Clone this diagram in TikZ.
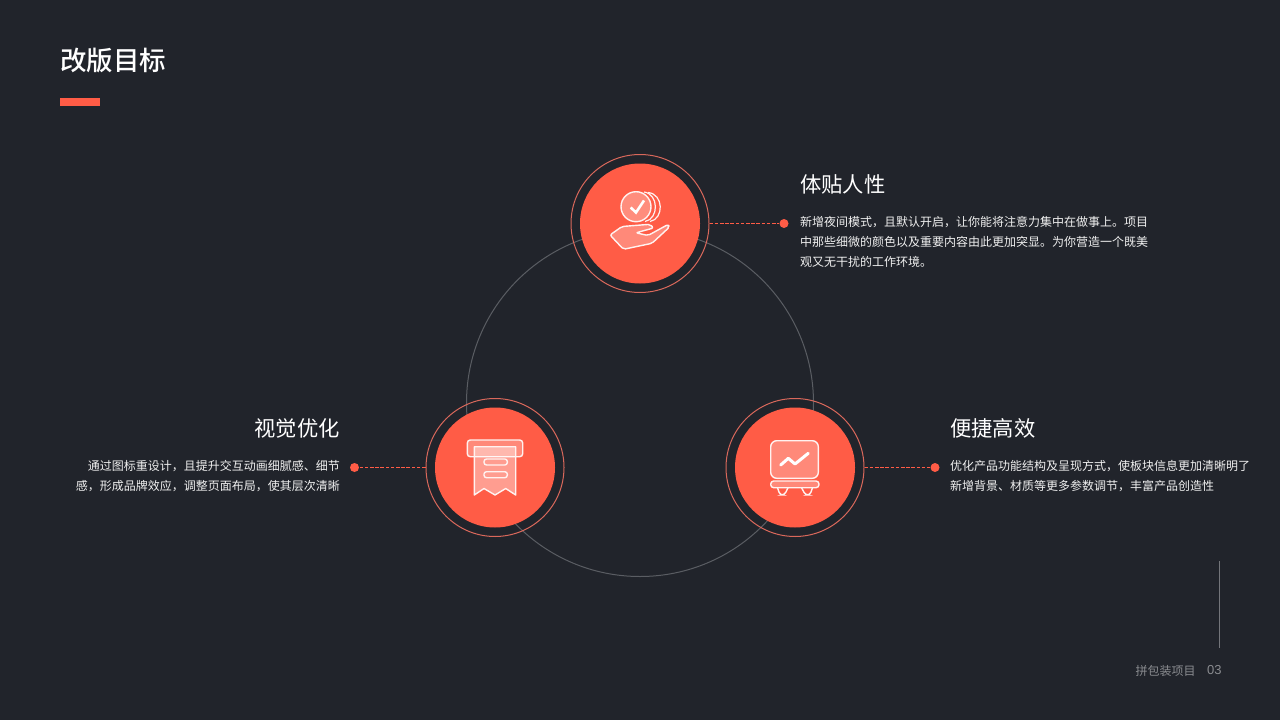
\documentclass[tikz,border=0pt]{standalone}
\usepackage{fontspec}
\setmainfont{Noto Sans CJK SC}
\newfontfamily\titlefont{Noto Sans CJK SC Medium}
\newfontfamily\pagefont{Liberation Sans}
\definecolor{bgcol}{HTML}{21242B}
\definecolor{redcol}{HTML}{FF5C46}
\definecolor{ringcol}{HTML}{D9685B}
\definecolor{arccol}{HTML}{5A5D63}
\definecolor{footcol}{HTML}{8A8C90}
\tikzset{
	disc/.style={circle,fill=redcol,minimum size=120pt,inner sep=0pt},
	halo/.style={circle,draw=ringcol,line width=1pt,minimum size=138pt,inner sep=0pt},
	dotnode/.style={circle,fill=redcol,minimum size=9pt,inner sep=0pt},
	link/.style={draw=redcol,line width=1.1pt,dash pattern=on 3.6pt off 1.6pt},
	heading/.style={text=white,font=\fontsize{21.3}{26}\selectfont,inner sep=0pt},
	body/.style={text=white!94!black,font=\fontsize{12}{20}\selectfont,inner sep=0pt},
	icon/.style={draw=white!92!redcol,line width=1.4pt,fill=white,fill opacity=.28,draw opacity=1,line join=round},
	iconline/.style={draw=white!92!redcol,line width=1.4pt}
}
\begin{document}
\begin{tikzpicture}[x=1pt,y=-1pt]
		\fill[bgcol] (0,0) rectangle (1280,720);
		\useasboundingbox (0,0) rectangle (1280,720);

		\node[text=white,font=\fontsize{26.5}{30}\titlefont,inner sep=0pt,anchor=west] (title) at (60,60) {改版目标};
		\fill[redcol] (60,98) rectangle (100,106);

		\draw[arccol,line width=1pt] (640,403) circle (173.5);

		\foreach \n/\x/\y in {top/640/223.5, left/495/467.5, right/795/467.5}{
			\node[halo] (\n halo) at (\x,\y) {};
			\node[disc] (\n) at (\x,\y) {};
		}

		\node[dotnode] (topdot) at (784,223.5) {};
		\node[dotnode] (leftdot) at (354.5,467.5) {};
		\node[dotnode] (rightdot) at (935,467.5) {};
		\draw[link] (tophalo) -- (topdot);
		\draw[link] (lefthalo) -- (leftdot);
		\draw[link] (righthalo) -- (rightdot);

		\node[heading,anchor=west] (tophead) at (800,184.5) {体贴人性};
		\node[body,anchor=west,align=left] (toptext) at (800,242) {新增夜间模式，且默认开启，让你能将注意力集中在做事上。项目\\中那些细微的颜色以及重要内容由此更加突显。为你营造一个既美\\观又无干扰的工作环境。};
		\node[heading,anchor=east] (lefthead) at (340,428.5) {视觉优化};
		\node[body,anchor=east,align=right] (lefttext) at (340,476) {通过图标重设计，且提升交互动画细腻感、细节\\感，形成品牌效应，调整页面布局，使其层次清晰};
		\node[heading,anchor=west] (righthead) at (950,428.5) {便捷高效};
		\node[body,anchor=west,align=left] (righttext) at (950,476) {优化产品功能结构及呈现方式，使板块信息更加清晰明了\\新增背景、材质等更多参数调节，丰富产品创造性};

		% coins and hand
		\draw[iconline,line width=1.2pt] (648,192.5) .. controls (664,194) and (664,219) .. (650,221.5);
		\draw[iconline,line width=1.2pt] (644,192) .. controls (659,194) and (659,219) .. (645,221.5);
		\filldraw[icon,fill opacity=.3] (636,206.7) circle (15);
		\draw[white,line width=2.6pt] (630.7,207.5) -- (636,212.5) -- (644,200.5);
		\filldraw[icon,rounded corners=2pt] (610,235) -- (622,226.5) -- (650,224.3) -- (653.5,228) -- (636,232.8) -- (648,235.5) -- (668,224.5) -- (669.5,227) -- (652,243.3) -- (623.5,249.3) -- cycle;

		% receipt
		\filldraw[icon,rounded corners=3pt] (467.3,440) rectangle (522.7,456.7);
		\filldraw[icon,fill opacity=.4] (474.3,446.7) -- (515.7,446.7) -- (515.7,495) -- (505.7,488.5) -- (495,495) -- (484,488.5) -- (474.3,495) -- cycle;
		\draw[iconline,rounded corners=2.5pt] (484,459) rectangle (507.3,465);
		\draw[iconline,rounded corners=2.5pt] (484,471.7) rectangle (507.3,477.7);

		% screen on stand
		\filldraw[icon,rounded corners=6pt] (770.7,440.7) rectangle (818.3,478.3);
		\draw[white,line width=3pt,line cap=round,line join=round] (780.7,465) -- (788.3,458.3) -- (795,464) -- (808.3,453.3);
		\filldraw[icon,rounded corners=3pt] (770.7,481) rectangle (819,487.7);
		\draw[iconline,rounded corners=3pt] (777.5,487.7) -- (780,495) -- (784.5,495) -- (788,487.7);
		\draw[iconline,rounded corners=3pt] (801.5,487.7) -- (805.5,495) -- (810,495) -- (812.5,487.7);

		\node[coordinate] (railtop) at (1219.5,561) {};
		\node[coordinate] (railend) at (1219.5,648) {};
		\draw[arccol!85!white,line width=1pt] (railtop) -- (railend);
		\node[text=footcol,font=\fontsize{12}{14}\selectfont,inner sep=0pt,anchor=west] (foottext) at (1135.5,670.5) {拼包装项目};
		\node[text=footcol,font=\fontsize{13}{14}\pagefont,inner sep=0pt,anchor=west] (footpage) at (1207,670.5) {03};
		\end{tikzpicture}
\end{document}
